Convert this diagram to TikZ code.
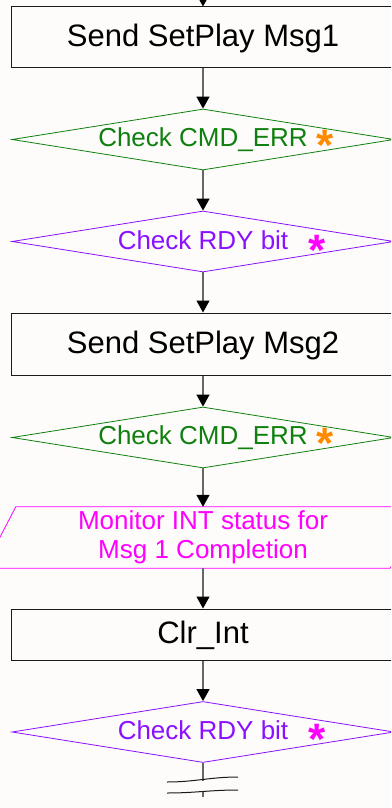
\documentclass[tikz,border=0pt]{standalone}
\usepackage{fontspec}
\setmainfont{Liberation Sans}
\usetikzlibrary{arrows.meta,shapes.geometric}
\definecolor{fcink}{HTML}{1A1A1A}
\definecolor{fcline}{HTML}{666666}
\definecolor{fcgreen}{HTML}{0F800F}
\definecolor{fcviolet}{HTML}{8A10FF}
\definecolor{fcmagenta}{HTML}{FF00FF}
\definecolor{fcorange}{HTML}{FF8A00}
\definecolor{fcpaper}{HTML}{FDFCFA}

\begin{document}
\begin{tikzpicture}[x=1pt,y=-1pt,
    procbox/.style={draw=fcink,line width=1pt,minimum width=384pt,inner sep=0pt,text height=22pt,text depth=4pt,font=\fontsize{31}{36}\selectfont},
    decide/.style={diamond,draw=#1,line width=0.8pt,minimum width=382pt,minimum height=61pt,aspect=6.3,inner sep=0pt},
    dtext/.style={inner sep=0pt,anchor=base,font=\fontsize{26}{30}\selectfont,text=#1},
    starmark/.style={inner sep=0pt,anchor=base,font=\fontsize{44}{44}\selectfont\bfseries,text=#1},
    link/.style={draw=fcline,line width=1.2pt},
    flow/.style={link,-{Triangle[length=12pt,width=13pt,color=black]}}]
      \useasboundingbox (0,0) rectangle (391,808);
      \fill[fcpaper] (0,0) rectangle (391,808);
      \clip (0,0) rectangle (391,808);
      % boxes and decisions, top to bottom
      \coordinate (entry) at (203,-12);
      \node[procbox,minimum height=61pt] (msg1) at (203,37.5) {Send SetPlay Msg1};
      \node[decide=fcgreen] (err1) at (203,139.5) {};
      \node[dtext=fcgreen] (err1t) at (203,146.7) {Check CMD\_ERR};
      \node[starmark=fcorange] (err1s) at (325,160) {*};
      \node[decide=fcviolet] (rdy1) at (203,241.5) {};
      \node[dtext=fcviolet] (rdy1t) at (203,249) {Check RDY bit};
      \node[starmark=fcmagenta] (rdy1s) at (317,265) {*};
      \node[procbox,minimum height=62pt] (msg2) at (203,344) {Send SetPlay Msg2};
      \node[decide=fcgreen] (err2) at (203,437.5) {};
      \node[dtext=fcgreen] (err2t) at (203,444.7) {Check CMD\_ERR};
      \node[starmark=fcorange] (err2s) at (325,458) {*};
      \node[minimum width=406pt,minimum height=61pt,inner sep=0pt,align=center,text=fcmagenta,font=\fontsize{26}{29}\selectfont] (mon) at (203,537.5) {Monitor INT status for\\Msg 1 Completion};
      \draw[fcmagenta,line width=0.8pt] ([xshift=16pt]mon.north west) -- ([xshift=16pt]mon.north east) -- ([xshift=-16pt]mon.south east) -- ([xshift=-16pt]mon.south west) -- cycle;
      \node[procbox,minimum height=51pt] (clr) at (203,634.5) {Clr\_Int};
      \node[decide=fcviolet] (rdy2) at (203,732) {};
      \node[dtext=fcviolet] (rdy2t) at (203,739.5) {Check RDY bit};
      \node[starmark=fcmagenta] (rdy2s) at (317,754) {*};
      % connectors
      \draw[flow] (entry) -- (msg1);
      \draw[flow] (msg1) -- (err1);
      \draw[flow] (err1) -- (rdy1);
      \draw[flow] (rdy1) -- (msg2);
      \draw[flow] (msg2) -- (err2);
      \draw[flow] (err2) -- (mon.north);
      \draw[flow] (mon.south) -- (clr);
      \draw[flow] (clr) -- (rdy2);
      % break mark at the bottom
      \coordinate (cutA) at (203,781);
      \coordinate (cutB) at (203,792);
      \coordinate (tail) at (203,797);
      \draw[link] (rdy2) -- (cutA);
      \draw[link] (cutB) -- (tail);
      \draw[fcink,line width=1pt] (167,782) .. controls (195,782) and (210,777) .. (238,777);
      \draw[fcink,line width=1pt] (167,793) .. controls (195,793) and (210,790) .. (238,790);
    \end{tikzpicture}
\end{document}
